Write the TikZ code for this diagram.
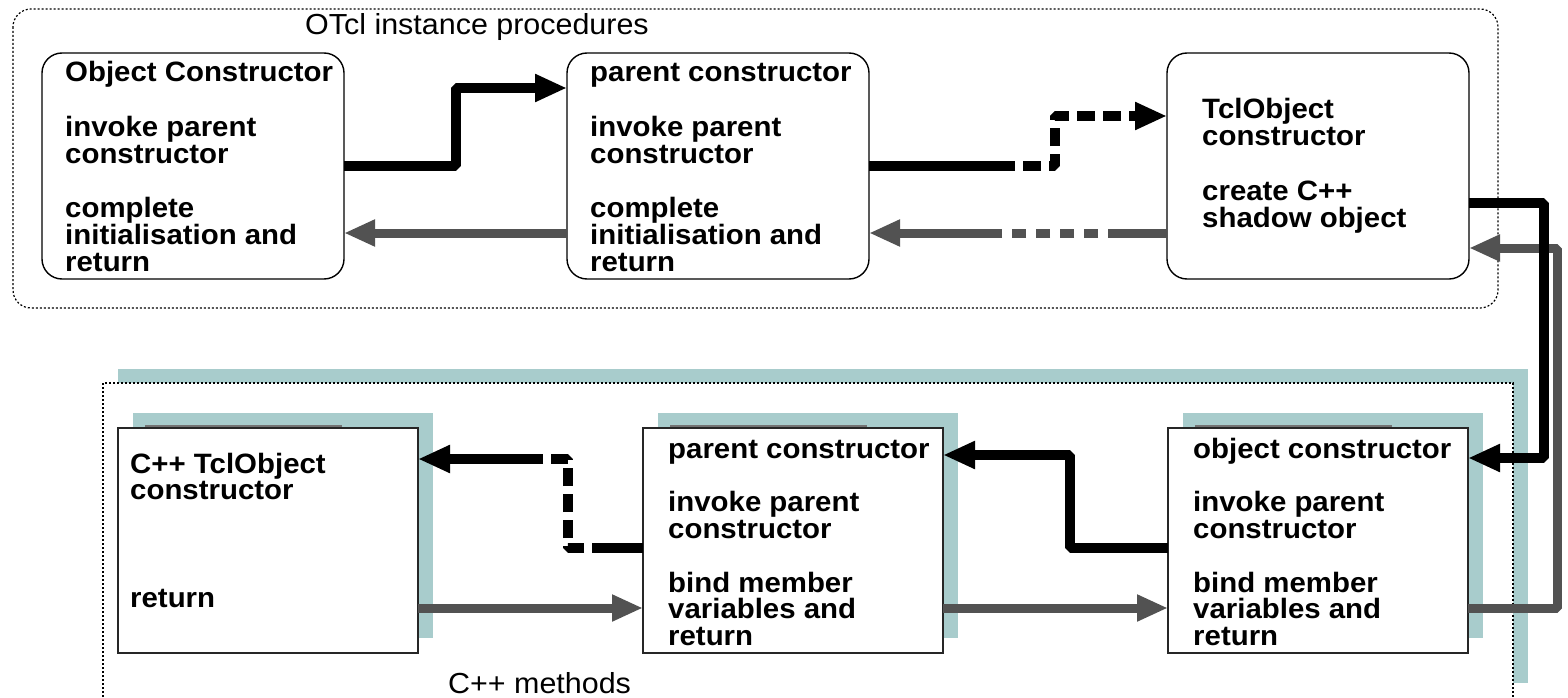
\documentclass[tikz,border=0pt]{standalone}
\usepackage{fontspec}
\setmainfont{Liberation Sans}[FakeStretch=1.05]
\usetikzlibrary{arrows.meta,calc}
\definecolor{tealshade}{RGB}{168,204,204}
\definecolor{hatch}{RGB}{82,82,82}
\begin{document}
\begin{tikzpicture}[x=1pt,y=-1pt,
  rbox/.style={draw, line width=1.4pt, rounded corners=20pt, minimum width=302pt,
    minimum height=226pt, inner sep=0pt, outer sep=0pt},
  sbox/.style={draw=black!85, line width=1.6pt, fill=white, minimum width=300pt,
    minimum height=225pt, inner sep=0pt, outer sep=0pt},
  txt/.style={anchor=base west, inner sep=0pt, font=\fontsize{28}{28}\selectfont\bfseries},
  lbl/.style={anchor=base west, inner sep=0pt, font=\fontsize{29}{29}\selectfont},
  frame/.style={line width=1.2pt, dash pattern=on 2pt off 2pt},
  callseg/.style={line width=10pt, line join=bevel},
  call/.style={callseg, -{Triangle[length=32pt,width=26pt]}},
  retseg/.style={hatch, line width=9pt, line join=bevel},
  ret/.style={retseg, -{Triangle[length=31pt,width=25pt]}},
  dashcall/.style={dash pattern=on 18pt off 8pt},
  dashret/.style={dash pattern=on 14pt off 10pt},
]
\useasboundingbox (0,0) rectangle (1568,698);

% OTcl frame
\draw[frame, rounded corners=18pt] (13,9) rectangle (1498,308);
\node[lbl] (otcl) at (305,35) {OTcl instance procedures};

% C++ frame with its shadow
\fill[tealshade] (118,369) rectangle (1528,383);
\fill[tealshade] (1513,369) rectangle (1528,683);
\draw[frame] (103,705) -- (103,383) -- (1513,383) -- (1513,705);
\node[lbl] (cpp) at (448,693) {C++ methods};

% OTcl procedures
\node[rbox] (b1) at (193,166) {};
\node[rbox] (b2) at (718,166) {};
\node[rbox] (b3) at (1318,166) {};

% C++ methods with shadows
\foreach \cx/\nm in {268/ca, 793/cb, 1318/cc} {
  \fill[tealshade] (\cx-135,413) rectangle (\cx+165,638);
  \node[sbox] (\nm) at (\cx,540.5) {};
  \draw[black!55, line width=1.5pt] (\cx-123,426) -- (\cx+74,426);
}

% box texts
\foreach \k/\t in {0/Object Constructor, 2/invoke parent, 3/constructor,
    5/complete, 6/initialisation and, 7/return}
  \node[txt] (ta\k) at (65,{82+27*\k}) {\t};
\foreach \k/\t in {0/parent constructor, 2/invoke parent, 3/constructor,
    5/complete, 6/initialisation and, 7/return}
  \node[txt] (tb\k) at (590,{82+27*\k}) {\t};
\foreach \k/\t in {0/TclObject, 1/constructor, 3/create C++, 4/shadow object}
  \node[txt] (tc\k) at (1202,{119+27*\k}) {\t};
\foreach \k/\t in {0/C++ TclObject, 1/constructor, 5/return}
  \node[txt] (td\k) at (130,{473+26.8*\k}) {\t};
\foreach \k/\t in {0/parent constructor, 2/invoke parent, 3/constructor,
    5/bind member, 6/variables and, 7/return}
  \node[txt] (te\k) at (668,{458+26.8*\k}) {\t};
\foreach \k/\t in {0/object constructor, 2/invoke parent, 3/constructor,
    5/bind member, 6/variables and, 7/return}
  \node[txt] (tf\k) at (1193,{458+26.8*\k}) {\t};

% OTcl calls and returns
\draw[call] (b1.east) -- ++(112,0) |- ($(b2.west)+(0,-78)$);
\draw[ret] ($(b2.west)+(0,67)$) -- ($(b1.east)+(0,67)$);
\draw[callseg] (b2.east) -- ++(128,0) coordinate (d1);
\draw[call, dashcall] (d1) -- ++(58,0) |- ($(b3.west)+(0,-50)$);
\draw[retseg] ($(b3.west)+(0,67)$) -- ++(-45,0) coordinate (g1);
\draw[retseg, dashret] (g1) -- ++(-120,0) coordinate (g2);
\draw[ret] (g2) -- ($(b2.east)+(0,67)$);

% between OTcl and C++
\draw[ret] ($(cc.east)+(0,67.5)$) -- ++(89,0) |- ($(b3.east)+(0,82)$);
\draw[call] ($(b3.east)+(0,37)$) -- ++(75,0) |- ($(cc.east)+(0,-82.5)$);

% C++ calls and returns
\draw[call] ($(cc.west)+(0,7.5)$) -- ++(-98,0) |- ($(cb.east)+(0,-85.5)$);
\draw[callseg] ($(cb.west)+(0,7.5)$) -- ++(-33,0) coordinate (d2);
\draw[callseg, dashcall] (d2) -| ($(ca.east)+(150,-81.5)$) -- ++(-43,0) coordinate (d3);
\draw[call] (d3) -- ($(ca.east)+(0,-81.5)$);
\draw[ret] ($(ca.east)+(0,67.5)$) -- ($(cb.west)+(0,67.5)$);
\draw[ret] ($(cb.east)+(0,67.5)$) -- ($(cc.west)+(0,67.5)$);
\end{tikzpicture}
\end{document}
